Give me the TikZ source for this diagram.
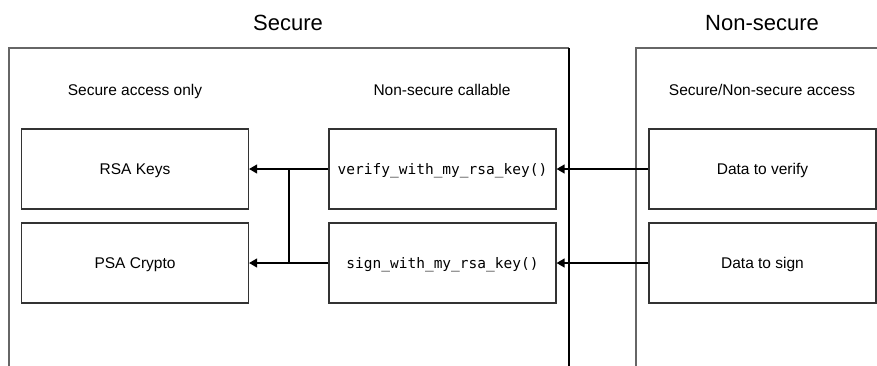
\documentclass[tikz,border=0pt]{standalone}
\usepackage{fontspec}
\setmainfont{Liberation Sans}
\setmonofont{DejaVu Sans Mono}
\usetikzlibrary{arrows.meta}
\begin{document}
\begin{tikzpicture}[x=1pt,y=-1pt,
  box/.style={draw=black!80,line width=1.2pt,minimum width=227pt,minimum height=80pt,inner sep=0pt,text height=11pt,text depth=0pt,font=\fontsize{15.5}{18}\selectfont},
  codebox/.style={box,text height=10.6pt,font=\ttfamily\fontsize{14.5}{18}\selectfont},
  lbl/.style={font=\fontsize{15.5}{18}\selectfont,inner sep=0pt,text height=11pt,text depth=0pt},
  ttl/.style={font=\fontsize{22}{26}\selectfont,inner sep=0pt,text height=15.8pt,text depth=0pt},
  cont/.style={draw=black!60,line width=1.3pt},
  conn/.style={draw=black,line width=1.3pt,-{Triangle[width=9pt,length=8pt,fill=black]}}]
\useasboundingbox (0,0) rectangle (877,365);
\fill[white] (0,0) rectangle (877,365);
% containers
\draw[cont] (9,367) -- (9,48) -- (569,48);
\draw[draw=black,line width=1.3pt] (569,48) -- (569,367);
\draw[cont] (636,367) -- (636,48) -- (879,48);
% titles
\node[ttl] (tsec) at (288,22.5) {Secure};
\node[ttl] (tnon) at (762,22.5) {Non-secure};
\node[lbl] (l1) at (135,90) {Secure access only};
\node[lbl] (l2) at (442,90) {Non-secure callable};
\node[lbl] (l3) at (762,90) {Secure/Non-secure access};
% boxes
\node[box] (rsa) at (135,169) {RSA Keys};
\node[box] (psa) at (135,263) {PSA Crypto};
\node[codebox] (ver) at (442.5,169) {verify\_with\_my\_rsa\_key()};
\node[codebox] (sig) at (442.5,263) {sign\_with\_my\_rsa\_key()};
\node[box] (dv) at (762.5,169) {Data to verify};
\node[box] (ds) at (762.5,263) {Data to sign};
% connectors
\coordinate (j1) at (289,169);
\coordinate (j2) at (289,263);
\draw[conn] (ver.west) -- (rsa.east);
\draw[conn] (sig.west) -- (psa.east);
\draw[draw=black,line width=1.3pt] (j1) -- (j2);
\draw[conn] (dv.west) -- (ver.east);
\draw[conn] (ds.west) -- (sig.east);
\end{tikzpicture}
\end{document}
